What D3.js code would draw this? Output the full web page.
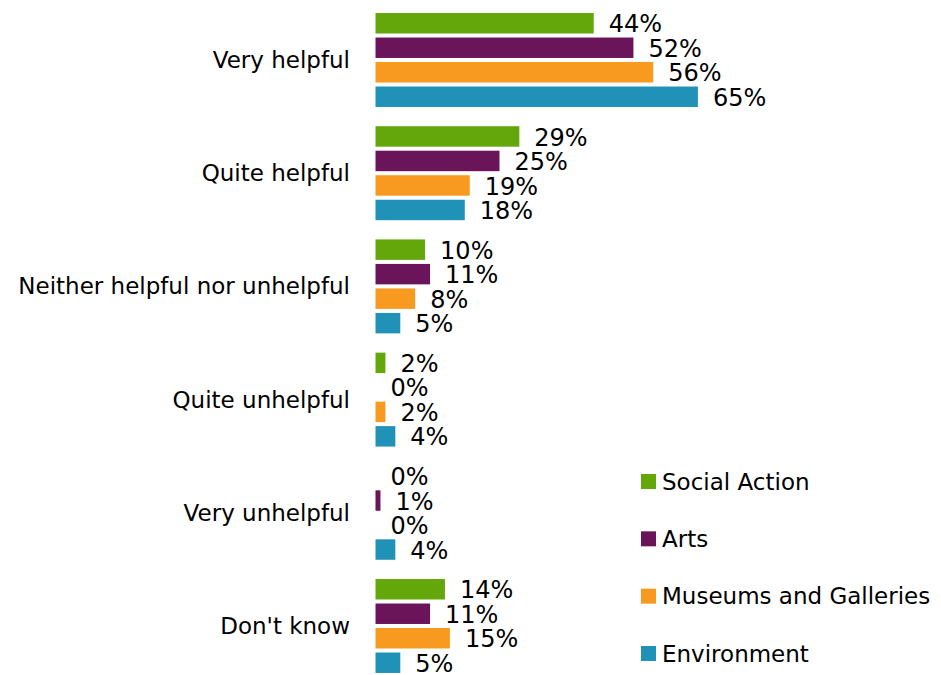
<!DOCTYPE html>
<html>
<head>
<meta charset="utf-8">
<script src="https://cdn.jsdelivr.net/npm/d3@7"></script>
<style>
  html, body { margin: 0; padding: 0; background: #ffffff; }
  svg { display: block; font-family: "DejaVu Sans", Verdana, sans-serif; }
</style>
</head>
<body>
<svg id="chart" width="941" height="675"></svg>
<script>
const categories = ["Very helpful", "Quite helpful", "Neither helpful nor unhelpful", "Quite unhelpful", "Very unhelpful", "Don't know"];
const seriesNames = ["Social Action", "Arts", "Museums and Galleries", "Environment"];
const seriesColors = ["#63a70b", "#6a1559", "#f99a20", "#2192b7"];
const socialAction = [44, 29, 10, 2, 0, 14];
const arts = [52, 25, 11, 0, 1, 11];
const museums = [56, 19, 8, 2, 0, 15];
const environment = [65, 18, 5, 4, 4, 5];
const seriesValues = [socialAction, arts, museums, environment];

const svg = d3.select("#chart");

const x = d3.scaleLinear().domain([0, 100]).range([375.5, 375.5 + 496]);
const y = d3.scaleBand().domain(categories).range([3.4, 682.6]).paddingInner(0.17).paddingOuter(0.085);
const ySub = d3.scaleBand().domain(seriesNames).range([0, y.bandwidth()]).paddingInner(0.165);
const color = d3.scaleOrdinal().domain(seriesNames).range(seriesColors);

const rows = [];
categories.forEach((c, ci) => {
  seriesNames.forEach((s, si) => {
    rows.push({ cat: c, series: s, value: seriesValues[si][ci] });
  });
});

// category labels (axis)
const axis = d3.axisLeft(y).tickSize(0).tickPadding(0);
const axisG = svg.append("g").attr("transform", "translate(350,0)").call(axis);
axisG.select(".domain").remove();
axisG.selectAll("text")
  .attr("font-family", "DejaVu Sans, Verdana, sans-serif")
  .attr("font-size", 23)
  .attr("fill", "#000")
  .attr("dy", "0.35em");

// bars
svg.append("g").selectAll("rect")
  .data(rows)
  .join("rect")
  .attr("x", x(0))
  .attr("y", d => y(d.cat) + ySub(d.series))
  .attr("width", d => x(d.value) - x(0))
  .attr("height", ySub.bandwidth())
  .attr("fill", d => color(d.series));

// value labels
svg.append("g").selectAll("text")
  .data(rows)
  .join("text")
  .attr("x", d => x(d.value) + 15)
  .attr("y", d => y(d.cat) + ySub(d.series) + ySub.bandwidth() / 2)
  .attr("dy", "0.38em")
  .attr("font-size", 24)
  .attr("fill", "#000")
  .text(d => d.value + "%");

// legend
const legendY = d3.scalePoint().domain(seriesNames).range([481.5, 653.5]);
const legend = svg.append("g").selectAll("g")
  .data(seriesNames)
  .join("g")
  .attr("transform", d => `translate(641,${legendY(d)})`);
legend.append("rect")
  .attr("x", 0).attr("y", -7.5)
  .attr("width", 15).attr("height", 15)
  .attr("fill", d => color(d));
legend.append("text")
  .attr("x", 21).attr("y", 0).attr("dy", "0.36em")
  .attr("font-size", 23).attr("fill", "#000")
  .text(d => d);
</script>
</body>
</html>
